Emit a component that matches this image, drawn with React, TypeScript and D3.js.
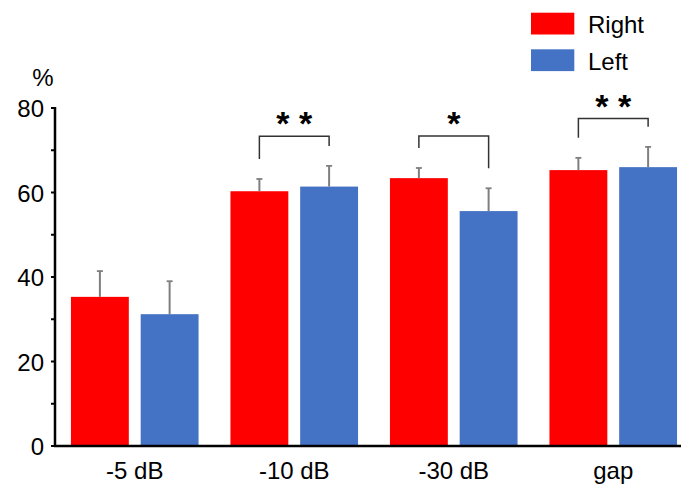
import React from "react";
import * as d3 from "d3";

const categories = ["-5 dB", "-10 dB", "-30 dB", "gap"];
const seriesNames = ["Right", "Left"];
const seriesColors = ["#ff0000", "#4472c4"];
const rightValues = [35.3, 60.3, 63.4, 65.3];
const rightErrors = [6.1, 2.9, 2.4, 2.9];
const leftValues = [31.2, 61.4, 55.6, 66.0];
const leftErrors = [7.8, 4.9, 5.4, 4.8];
const yTicks = [0, 20, 40, 60, 80];
const yMinorTicks = [10, 30, 50, 70];
const sigCategories = ["-10 dB", "-30 dB", "gap"];
const sigLabels = ["* *", "*", "* *"];
const sigLevels = [73.3, 73.4, 77.5];

const W = 681;
const H = 487;
const FONT = "'Liberation Sans', Arial, Helvetica, sans-serif";

export default function App() {
  const y = d3.scaleLinear().domain([0, 80]).range([446, 108]);
  const x = d3
    .scaleBand<string>()
    .domain(categories)
    .range([55, 693])
    .paddingInner(0.2)
    .paddingOuter(0.1);
  const xs = d3
    .scaleBand<string>()
    .domain(seriesNames)
    .range([0, x.bandwidth()])
    .paddingInner(0.17);

  const values = [rightValues, leftValues];
  const errors = [rightErrors, leftErrors];

  const barCenter = (cat: string, s: number) =>
    (x(cat) as number) + (xs(seriesNames[s]) as number) + xs.bandwidth() / 2;

  return (
    <svg
      width={W}
      height={H}
      style={{ position: "absolute", left: 0, top: 0, background: "#fff" }}
      fontFamily={FONT}
    >
      {/* bars */}
      {categories.map((c, i) =>
        seriesNames.map((s, si) => (
          <rect
            key={c + s}
            x={(x(c) as number) + (xs(s) as number)}
            y={y(values[si][i])}
            width={xs.bandwidth()}
            height={y(0) - y(values[si][i])}
            fill={seriesColors[si]}
          />
        ))
      )}
      {/* error bars */}
      {categories.map((c, i) =>
        seriesNames.map((s, si) => {
          const cx = barCenter(c, si);
          const top = y(values[si][i] + errors[si][i]);
          return (
            <g key={"e" + c + s} stroke="#7f7f7f">
              <line x1={cx} x2={cx} y1={y(values[si][i])} y2={top} strokeWidth={2} />
              <line x1={cx - 3} x2={cx + 3} y1={top} y2={top} strokeWidth={1.8} />
            </g>
          );
        })
      )}
      {/* significance brackets */}
      {sigCategories.map((c, k) => {
        const i = categories.indexOf(c);
        const x1 = barCenter(c, 0);
        const x2 = barCenter(c, 1);
        const by = y(sigLevels[k]);
        const l1 = y(values[0][i] + errors[0][i]) - 20;
        const l2 = y(values[1][i] + errors[1][i]) - 20;
        return (
          <g key={"s" + c}>
            <path
              d={`M${x1},${l1}V${by}H${x2}V${l2}`}
              fill="none"
              stroke="#333"
              strokeWidth={1.5}
            />
            <text
              x={(x1 + x2) / 2}
              y={by - 1}
              textAnchor="middle"
              fontSize={34}
              fontWeight="bold"
              fill="#000"
            >
              {sigLabels[k]}
            </text>
          </g>
        );
      })}
      {/* y axis */}
      <line x1={55} x2={55} y1={y(80) - 1} y2={y(0)} stroke="#000" strokeWidth={2.5} />
      {yTicks.map((t) => (
        <g key={"t" + t}>
          <line x1={51} x2={55} y1={y(t)} y2={y(t)} stroke="#000" strokeWidth={2} />
          <text x={44} y={y(t) + 9} textAnchor="end" fontSize={24} fill="#000">
            {t}
          </text>
        </g>
      ))}
      {yMinorTicks.map((t) => (
        <line key={"m" + t} x1={51} x2={55} y1={y(t)} y2={y(t)} stroke="#000" strokeWidth={2} />
      ))}
      <text x={43} y={86} textAnchor="middle" fontSize={24} fill="#000">
        %
      </text>
      {/* x axis */}
      <line x1={54} x2={W} y1={y(0)} y2={y(0)} stroke="#000" strokeWidth={2.5} />
      {categories.map((c) => (
        <text
          key={"x" + c}
          x={(x(c) as number) + x.bandwidth() / 2}
          y={479}
          textAnchor="middle"
          fontSize={24}
          fill="#000"
        >
          {c}
        </text>
      ))}
      {/* legend */}
      {seriesNames.map((s, si) => (
        <g key={"l" + s} transform={`translate(531, ${12.7 + si * 36.6})`}>
          <rect x={0} y={0} width={43.3} height={21.8} fill={seriesColors[si]} />
          <text x={57} y={20.6} fontSize={24} fill="#000">
            {s}
          </text>
        </g>
      ))}
    </svg>
  );
}
